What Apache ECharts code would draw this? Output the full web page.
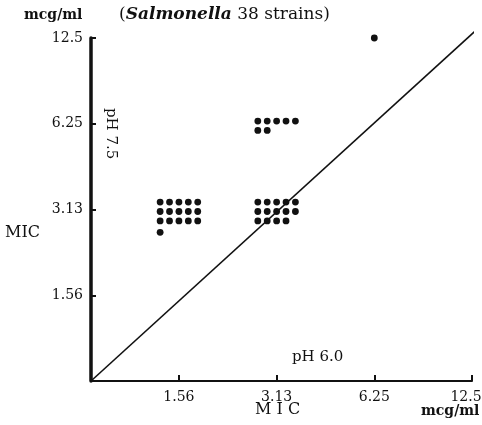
<!DOCTYPE html>
<html>
<head>
<meta charset="utf-8">
<script src="https://cdn.jsdelivr.net/npm/echarts@6/dist/echarts.min.js"></script>
<style>
  html, body { margin: 0; padding: 0; background: #fff; }
  #chart { width: 482px; height: 425px; }
</style>
</head>
<body>
<div id="chart"></div>
<script>
// MIC scale: each step doubles the concentration (mcg/ml)
const tickLabels = ['1.56', '3.13', '6.25', '12.5'];
const tickSteps = [1, 2, 3, 4];
// MIC at pH 6.0 (x) and pH 7.5 (y) for each group of strains
const micPH60 = [1.56, 3.13, 3.13, 6.25];
const micPH75 = [3.13, 3.13, 6.25, 12.5];
const strainCount = [16, 14, 7, 1];
// line of equal MIC at both pH values (in dilution steps)
const equalLineX = [0.1, 4.08];
const equalLineY = [0, 4.13];

const FONT = 'DejaVu Serif';
const INK = '#111';

// dilution step of an MIC value on the doubling scale
function step(v) { return tickSteps[tickLabels.indexOf(String(v))]; }
function labelOf(v) { const i = tickSteps.indexOf(v); return i < 0 ? '' : tickLabels[i]; }

const points = micPH60.map((x, i) => [step(x), step(micPH75[i]), strainCount[i]]);

const chart = echarts.init(document.getElementById('chart'), null, { renderer: 'canvas' });

const COLS = 5, GAP = 9.4, R = 3.4;

chart.setOption({
  animation: false,
  backgroundColor: '#fff',
  grid: { left: 91, right: 10, top: 38, bottom: 44, containLabel: false, outerBoundsMode: 'none' },
  xAxis: {
    type: 'value', min: 0.1, max: 4,
    axisLine: { show: true, onZero: false, lineStyle: { color: INK, width: 2 } },
    axisTick: { show: true, inside: true, length: 6, customValues: tickSteps, lineStyle: { color: INK, width: 2 } },
    splitLine: { show: false },
    axisLabel: {
      color: INK, fontFamily: FONT, fontSize: 14, margin: 9,
      customValues: tickSteps,
      // the last label sits against the right edge of the page
      formatter: v => v === tickSteps[tickSteps.length - 1] ? '{e|' + labelOf(v) + '}' : labelOf(v),
      rich: { e: { color: INK, fontFamily: FONT, fontSize: 14, padding: [0, 12, 0, 0] } }
    }
  },
  yAxis: {
    type: 'value', min: 0, max: 4, interval: 1,
    axisLine: { show: true, onZero: false, lineStyle: { color: INK, width: 3.5 } },
    axisTick: { show: true, inside: true, length: 5, lineStyle: { color: INK, width: 2 } },
    splitLine: { show: false },
    axisLabel: {
      color: INK, fontFamily: FONT, fontSize: 14, margin: 8,
      formatter: v => labelOf(v)
    }
  },
  series: [
    {
      type: 'line',
      data: equalLineX.map((x, i) => [x, equalLineY[i]]),
      symbol: 'none',
      clip: false,
      lineStyle: { color: INK, width: 1.6 },
      z: 1
    },
    {
      type: 'custom',
      data: points,
      clip: false,
      z: 3,
      renderItem: function (params, api) {
        const c = api.coord([api.value(0), api.value(1)]);
        const n = api.value(2);
        const rows = Math.ceil(n / COLS);
        const cols = Math.min(n, COLS);
        const bodyRows = Math.min(rows, 3);
        const children = [];
        for (let k = 0; k < n; k++) {
          const r = Math.floor(k / COLS), col = k % COLS;
          const cx = c[0] + (col - (cols - 1) / 2) * GAP;
          const cy = c[1] + 2 + (r - (bodyRows - 1) / 2) * GAP + (r >= 3 ? 2 : 0);
          children.push({
            type: 'circle',
            shape: { cx: cx, cy: n === 1 ? c[1] : cy, r: R },
            style: { fill: INK }
          });
        }
        return { type: 'group', children: children };
      }
    }
  ],
  graphic: [
    { type: 'text', left: 24, top: 8, style: { text: 'mcg/ml', font: 'bold 14px "DejaVu Serif"', fill: INK } },
    {
      type: 'text', left: 119, top: 6,
      style: {
        text: '{p|(}{i|Salmonella}{p| 38 strains)}',
        rich: {
          p: { font: '17px "DejaVu Serif"', fill: INK },
          i: { font: 'italic bold 17px "DejaVu Serif"', fill: INK }
        }
      }
    },
    { type: 'text', left: 5, top: 225, style: { text: 'MIC', font: '16px "DejaVu Serif"', fill: INK } },
    {
      type: 'text', x: 118, y: 108, rotation: -Math.PI / 2,
      style: { text: 'pH 7.5', font: '15px "DejaVu Serif"', fill: INK }
    },
    { type: 'text', left: 292, top: 350, style: { text: 'pH 6.0', font: '15px "DejaVu Serif"', fill: INK } },
    { type: 'text', left: 255, top: 402, style: { text: 'M I C', font: '16px "DejaVu Serif"', fill: INK } },
    { type: 'text', left: 421, top: 404, style: { text: 'mcg/ml', font: 'bold 14px "DejaVu Serif"', fill: INK } }
  ]
});
</script>
</body>
</html>
